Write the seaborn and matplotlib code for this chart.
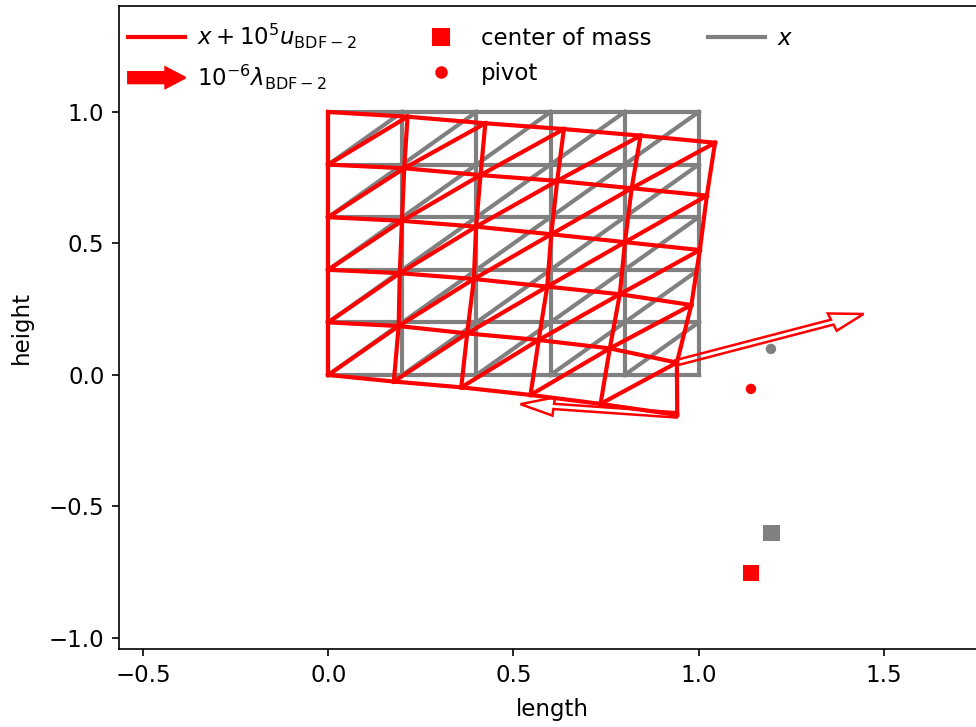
import pandas as pd
import seaborn as sns
import matplotlib.pyplot as plt
from matplotlib.lines import Line2D
from matplotlib.patches import FancyArrow
from matplotlib.legend_handler import HandlerPatch

# reference mesh coordinates (x)
grid = [0.0, 0.2, 0.4, 0.6, 0.8, 1.0]

# deformed mesh x + 1e5 u, rows from bottom (height 0) to top (height 1)
def_x = [
    [0.000, 0.177, 0.359, 0.546, 0.735, 0.942],
    [0.000, 0.190, 0.375, 0.568, 0.760, 0.941],
    [0.000, 0.193, 0.393, 0.591, 0.787, 0.980],
    [0.000, 0.199, 0.399, 0.602, 0.801, 1.003],
    [0.000, 0.205, 0.411, 0.618, 0.819, 1.022],
    [0.000, 0.214, 0.424, 0.636, 0.843, 1.044],
]
def_y = [
    [0.000, -0.025, -0.047, -0.076, -0.110, -0.152],
    [0.200, 0.186, 0.158, 0.133, 0.101, 0.047],
    [0.400, 0.387, 0.365, 0.336, 0.307, 0.266],
    [0.600, 0.586, 0.564, 0.535, 0.505, 0.475],
    [0.800, 0.786, 0.760, 0.738, 0.710, 0.682],
    [1.000, 0.982, 0.957, 0.935, 0.910, 0.883],
]

# multiplier arrows 1e-6 lambda, attached to deformed nodes (row, col)
arrow_nodes = [(1, 5), (0, 5)]
arrow_dx = [0.504, -0.423]
arrow_dy = [0.185, 0.041]

# center of mass and pivot: reference / deformed
com_x = [1.197, 1.141]
com_y = [-0.601, -0.753]
pivot_x = [1.195, 1.141]
pivot_y = [0.099, -0.053]


def mesh_edges(xs, ys):
    rows = []
    n = len(xs)
    k = 0
    for j in range(n):
        for i in range(n):
            nbrs = []
            if i + 1 < n:
                nbrs.append((j, i + 1))
            if j + 1 < n:
                nbrs.append((j + 1, i))
            if i + 1 < n and j + 1 < n:
                nbrs.append((j + 1, i + 1))
            for jj, ii in nbrs:
                rows.append((k, xs[j][i], ys[j][i]))
                rows.append((k, xs[jj][ii], ys[jj][ii]))
                k += 1
    return pd.DataFrame(rows, columns=["edge", "x", "y"])


ref_x = [list(grid) for _ in grid]
ref_y = [[g] * len(grid) for g in grid]
ref_edges = mesh_edges(ref_x, ref_y)
def_edges = mesh_edges(def_x, def_y)

plt.rcParams["font.size"] = 11
fig = plt.figure(figsize=(976 / 150, 727 / 150), dpi=150)
ax = fig.add_axes([119 / 976, 1 - 649 / 727, (985 - 119) / 976, (649 - 6) / 727])

sns.lineplot(data=ref_edges, x="x", y="y", units="edge", estimator=None, sort=False,
             color="gray", lw=2, ax=ax, legend=False)
sns.lineplot(data=def_edges, x="x", y="y", units="edge", estimator=None, sort=False,
             color="red", lw=2, ax=ax, legend=False)

for (r, c), dx, dy in zip(arrow_nodes, arrow_dx, arrow_dy):
    ax.arrow(def_x[r][c], def_y[r][c], dx, dy, width=0.02, head_width=0.07,
             head_length=0.09, length_includes_head=True, fill=False,
             ec="red", lw=1.2, zorder=3)

sns.scatterplot(x=[com_x[0]], y=[com_y[0]], marker="s", s=64, color="gray",
                edgecolor="none", ax=ax, zorder=4)
sns.scatterplot(x=[com_x[1]], y=[com_y[1]], marker="s", s=64, color="red",
                edgecolor="none", ax=ax, zorder=4)
sns.scatterplot(x=[pivot_x[0]], y=[pivot_y[0]], marker="o", s=25, color="gray",
                edgecolor="none", ax=ax, zorder=4)
sns.scatterplot(x=[pivot_x[1]], y=[pivot_y[1]], marker="o", s=25, color="red",
                edgecolor="none", ax=ax, zorder=4)

ax.set_xlim(-0.5649, (985 - 328) / 370.6)
ax.set_ylim(-1.042, 1.403)
ax.set_xlabel("length", labelpad=5.5)
ax.set_ylabel("height", labelpad=7.5)


def make_legend_arrow(legend, orig_handle, xdescent, ydescent, width, height, fontsize):
    return FancyArrow(0, 0.5 * height, width, 0, width=0.7 * height,
                      head_width=1.3 * height, head_length=0.35 * width,
                      length_includes_head=True)


handles = [
    Line2D([], [], color="red", lw=2),
    FancyArrow(0, 0, 1, 0, color="red"),
    Line2D([], [], color="red", marker="s", ms=8, ls="none"),
    Line2D([], [], color="red", marker="o", ms=5, ls="none"),
    Line2D([], [], color="gray", lw=2),
]
labels = [
    r"$x + 10^5 u_{\mathrm{BDF-2}}$",
    r"$10^{-6}\lambda_{\mathrm{BDF-2}}$",
    "center of mass",
    "pivot",
    r"$x$",
]
ax.legend(handles, labels, loc="upper left", bbox_to_anchor=(-0.008, 1.0),
          ncol=3, frameon=False,
          handlelength=2.5, handletextpad=0.5, columnspacing=2.45,
          borderaxespad=0.3,
          handler_map={FancyArrow: HandlerPatch(patch_func=make_legend_arrow)})

fig.savefig("out.png", dpi=150)
